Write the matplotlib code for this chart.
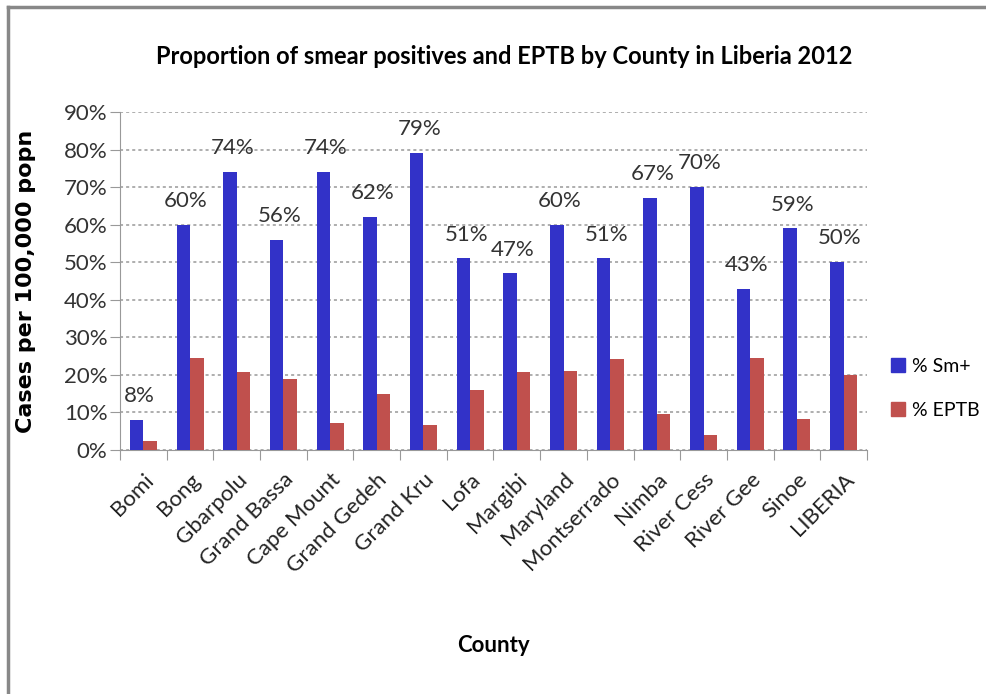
import numpy as np
import matplotlib.pyplot as plt
from matplotlib.ticker import PercentFormatter
from matplotlib.lines import Line2D

counties = ['Bomi', 'Bong', 'Gbarpolu', 'Grand Bassa', 'Cape Mount', 'Grand Gedeh',
            'Grand Kru', 'Lofa', 'Margibi', 'Maryland', 'Montserrado', 'Nimba',
            'River Cess', 'River Gee', 'Sinoe', 'LIBERIA']
sm_pos = [8, 60, 74, 56, 74, 62, 79, 51, 47, 60, 51, 67, 70, 43, 59, 50]
eptb = [2.4, 24.5, 20.7, 18.8, 7.1, 14.9, 6.7, 16.0, 20.7, 21.0, 24.2, 9.5, 3.9, 24.5, 8.2, 19.9]

font = ['Lato', 'DejaVu Sans']
blue = '#3232C8'
red = '#C0504D'

fig = plt.figure(figsize=(9.87, 6.94), dpi=100)
ax = fig.add_axes([0.1216, 0.3516, 0.7568, 0.487])

x = np.arange(len(counties))
w = 0.29
ax.bar(x - w / 2, sm_pos, width=w, color=blue, label='% Sm+', zorder=3)
ax.bar(x + w / 2, eptb, width=w, color=red, label='% EPTB', zorder=3)

# value labels above the Sm+ bars
for xi, v in zip(x, sm_pos):
    ax.annotate(f'{v}%', (xi - w / 2, v), xytext=(2, 10), textcoords='offset points',
                ha='center', va='bottom', fontsize=16, color='#333333', family=font)

ax.set_ylim(0, 90)
ax.set_xlim(-0.5, len(counties) - 0.5)
ax.set_yticks(range(0, 91, 10))
ax.yaxis.set_major_formatter(PercentFormatter(decimals=0))
ax.grid(axis='y', color='#999999', linestyle=(0, (2, 2)), linewidth=1.1, zorder=0)
ax.tick_params(axis='y', length=7, color='#999999', labelsize=16, labelcolor='#333333', pad=2)
for t in ax.get_yticklabels():
    t.set_family(font)

# category boundary ticks on the x axis
ax.set_xticks(np.arange(-0.5, len(counties)), minor=False)
ax.set_xticklabels([])
ax.tick_params(axis='x', length=7, color='#999999')
ax.set_xticks(x, minor=True)
ax.set_xticklabels(counties, minor=True, rotation=45, ha='right', va='top',
                   rotation_mode='anchor', fontsize=16, family=font, color='#222222')
ax.tick_params(axis='x', which='minor', length=0, pad=14)

for side in ['top', 'right']:
    ax.spines[side].set_visible(False)
ax.spines['left'].set_color('#999999')
ax.spines['bottom'].set_color('#999999')

ax.set_ylabel('Cases per 100,000 popn', fontsize=16, fontweight='bold',
              family='DejaVu Sans', labelpad=20)
ax.set_xlabel('County', fontsize=16, fontweight='bold', family=font, labelpad=42)
fig.text(0.511, 0.918, 'Proportion of smear positives and EPTB by County in Liberia 2012',
         ha='center', va='center', fontsize=17, fontweight='bold', family=font)

handles = [Line2D([], [], marker='s', linestyle='', color=blue, markersize=10),
           Line2D([], [], marker='s', linestyle='', color=red, markersize=10)]
fig.legend(handles, ['% Sm+', '% EPTB'], loc='center left', bbox_to_anchor=(0.9, 0.44),
           frameon=False, handletextpad=0.2, handlelength=1.0, labelspacing=1.4,
           borderaxespad=0, borderpad=0, prop={'family': font, 'size': 14})

# frame lines along the top and left edges
fig.add_artist(Line2D([0.008, 0.008], [0, 0.99], color='#888888', linewidth=2.5))
fig.add_artist(Line2D([0.008, 1], [0.99, 0.99], color='#888888', linewidth=2.5))

fig.savefig('out.png', dpi=100)
